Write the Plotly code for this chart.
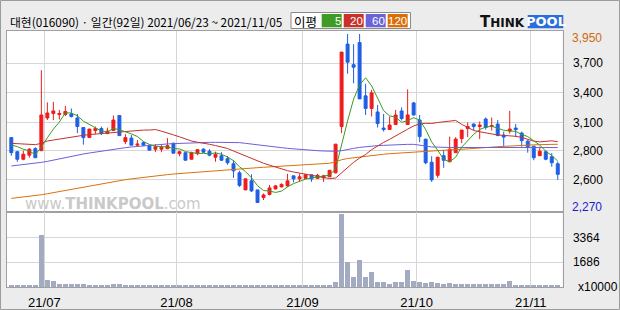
import pandas as pd
import plotly.graph_objects as go

# ---------------- data ----------------
HOLIDAYS = ['2021-08-16', '2021-09-20', '2021-09-21', '2021-09-22', '2021-10-04', '2021-10-11']
DATES = pd.bdate_range('2021-06-23', '2021-11-05', freq='C', holidays=HOLIDAYS)

OPEN = [2920, 2780, 2705, 2745, 2810, 2790, 3115, 3160, 3150, 3150,
        3155, 3115, 3020, 2920, 2990, 3010, 2960, 2990, 3140, 2880,
        2915, 2845, 2870, 2845, 2805, 2805, 2810, 2865, 2760, 2770,
        2705, 2760, 2805, 2785, 2725, 2740, 2710, 2660, 2570, 2400,
        2490, 2400, 2325, 2355, 2410, 2430, 2440, 2540, 2510, 2515,
        2550, 2515, 2520, 2530, 2570, 3030, 3850, 3645, 3865, 3335,
        3210, 3175, 3015, 3000, 3050, 3185, 3050, 3265, 3095, 2905,
        2675, 2545, 2740, 2680, 2770, 2910, 3010, 3055, 3030, 3105,
        3030, 3055, 2945, 2985, 3015, 2965, 2885, 2835, 2740, 2780,
        2730, 2660]
HIGH = [2920, 2785, 2790, 2815, 2825, 3590, 3270, 3275, 3195, 3235,
        3210, 3155, 3020, 3005, 3030, 3030, 3020, 3140, 3140, 2955,
        2945, 2895, 2885, 2845, 2855, 2845, 2915, 2865, 2790, 2770,
        2780, 2805, 2815, 2805, 2780, 2775, 2735, 2695, 2590, 2510,
        2555, 2400, 2365, 2450, 2450, 2465, 2560, 2540, 2560, 2560,
        2550, 2560, 2550, 2595, 2855, 3770, 3950, 3850, 3950, 3455,
        3395, 3245, 3155, 3130, 3195, 3220, 3400, 3275, 3145, 2905,
        2735, 2730, 2795, 2930, 2925, 2995, 3070, 3060, 3080, 3120,
        3120, 3095, 2980, 3185, 3055, 2980, 2895, 2835, 2830, 2795,
        2765, 2680]
LOW = [2740, 2680, 2695, 2720, 2720, 2790, 3095, 3095, 3100, 3135,
       3120, 2965, 2850, 2920, 2955, 2945, 2955, 2990, 2940, 2855,
       2845, 2835, 2835, 2795, 2775, 2775, 2805, 2765, 2735, 2695,
       2705, 2745, 2770, 2735, 2680, 2690, 2650, 2520, 2430, 2400,
       2380, 2270, 2300, 2345, 2405, 2425, 2430, 2475, 2480, 2510,
       2480, 2510, 2480, 2530, 2565, 2965, 3555, 3460, 3305, 3145,
       3130, 3020, 2980, 3000, 3045, 3090, 3045, 3140, 2875, 2655,
       2480, 2520, 2620, 2680, 2770, 2865, 2925, 2995, 2905, 3000,
       2990, 2935, 2835, 2960, 2925, 2830, 2770, 2695, 2740, 2695,
       2630, 2500]
CLOSE = [2770, 2705, 2755, 2805, 2720, 3145, 3165, 3185, 3160, 3180,
         3130, 3030, 2920, 3005, 3010, 2960, 2985, 3095, 2940, 2920,
         2845, 2855, 2845, 2795, 2830, 2825, 2840, 2765, 2780, 2695,
         2770, 2800, 2775, 2745, 2755, 2695, 2670, 2590, 2445, 2510,
         2390, 2275, 2350, 2420, 2440, 2455, 2490, 2510, 2530, 2550,
         2510, 2545, 2540, 2595, 2855, 3770, 3670, 3620, 3305, 3210,
         3365, 3060, 3000, 3045, 3145, 3110, 3145, 3145, 2930, 2670,
         2500, 2725, 2695, 2805, 2905, 2995, 3030, 3030, 3045, 3020,
         3040, 2940, 2925, 3005, 3000, 2890, 2830, 2720, 2785, 2705,
         2670, 2555]
VOLUME = [168, 90, 90, 90, 90, 3480, 503, 391, 190, 190,
          190, 190, 190, 90, 90, 90, 90, 190, 190, 90,
          90, 90, 90, 90, 90, 90, 90, 90, 90, 90,
          90, 90, 90, 90, 90, 90, 90, 90, 90, 90,
          90, 90, 90, 90, 90, 90, 90, 90, 90, 90,
          90, 90, 90, 90, 322, 4933, 1711, 658, 1846, 658,
          993, 369, 322, 188, 322, 322, 1175, 436, 322, 280,
          322, 255, 188, 255, 188, 188, 188, 188, 188, 188,
          188, 188, 188, 390, 168, 168, 145, 100, 100, 100,
          100, 168]
MA5 = [2847, 2830, 2804, 2787, 2751, 2826, 2918, 3004, 3075, 3167,
       3164, 3137, 3084, 3053, 3019, 2985, 2976, 3011, 2998, 2980,
       2957, 2931, 2881, 2852, 2834, 2830, 2827, 2811, 2808, 2781,
       2770, 2762, 2764, 2757, 2769, 2754, 2728, 2691, 2631, 2582,
       2521, 2442, 2394, 2389, 2375, 2388, 2431, 2463, 2485, 2507,
       2518, 2529, 2535, 2548, 2609, 2861, 3086, 3302, 3444, 3515,
       3434, 3312, 3188, 3136, 3123, 3072, 3089, 3118, 3095, 3000,
       2878, 2794, 2704, 2679, 2726, 2825, 2886, 2953, 3001, 3024,
       3033, 3015, 2994, 2986, 2982, 2952, 2930, 2889, 2845, 2786,
       2742, 2687]
MA20 = [2863, 2860, 2853, 2847, 2850, 2863, 2886, 2896, 2906, 2920,
        2929, 2936, 2943, 2950, 2955, 2962, 2968, 2974, 2978, 2979,
        2983, 2991, 2995, 2995, 3000, 2984, 2968, 2947, 2928, 2904,
        2886, 2874, 2867, 2854, 2841, 2828, 2812, 2787, 2762, 2742,
        2719, 2690, 2665, 2646, 2627, 2608, 2591, 2578, 2566, 2558,
        2545, 2533, 2521, 2513, 2518, 2572, 2622, 2674, 2717, 2752,
        2800, 2840, 2872, 2903, 2939, 2971, 3004, 3036, 3056, 3062,
        3061, 3070, 3078, 3089, 3091, 3052, 3020, 2991, 2978, 2968,
        2952, 2946, 2942, 2940, 2933, 2922, 2906, 2885, 2878, 2880,
        2888, 2880]
MA60 = [2638, 2644, 2651, 2658, 2664, 2674, 2684, 2697, 2711, 2724,
        2737, 2747, 2757, 2767, 2777, 2787, 2797, 2807, 2813, 2820,
        2827, 2833, 2840, 2843, 2850, 2853, 2857, 2860, 2863, 2867,
        2870, 2870, 2873, 2873, 2873, 2873, 2873, 2873, 2870, 2863,
        2857, 2850, 2840, 2833, 2827, 2820, 2813, 2807, 2804, 2797,
        2794, 2790, 2787, 2784, 2784, 2790, 2804, 2813, 2823, 2830,
        2837, 2840, 2843, 2847, 2850, 2853, 2853, 2853, 2847, 2837,
        2827, 2823, 2823, 2822, 2822, 2822, 2823, 2823, 2824, 2825,
        2826, 2826, 2827, 2827, 2827, 2826, 2826, 2825, 2824, 2823,
        2822, 2821]
MA120 = [2316, 2322, 2328, 2336, 2344, 2352, 2362, 2373, 2384, 2396,
         2407, 2418, 2430, 2441, 2452, 2462, 2472, 2482, 2492, 2502,
         2510, 2518, 2526, 2534, 2540, 2546, 2552, 2558, 2563, 2568,
         2573, 2577, 2580, 2585, 2590, 2595, 2600, 2605, 2609, 2613,
         2617, 2621, 2625, 2629, 2633, 2637, 2641, 2645, 2649, 2652,
         2655, 2658, 2661, 2665, 2680, 2700, 2712, 2720, 2730, 2738,
         2745, 2750, 2755, 2760, 2764, 2768, 2772, 2778, 2785, 2789,
         2792, 2794, 2796, 2798, 2800, 2803, 2806, 2810, 2815, 2820,
         2825, 2830, 2834, 2838, 2841, 2844, 2846, 2848, 2850, 2852,
         2853, 2854]

PRICE_MAX_LABEL, PRICE_MIN_LABEL = "3,950", "2,270"
PRICE_TICK_VALS = [3659, 3370, 3072, 2787, 2499]
PRICE_TICK_TEXT = ["3,700", "3,400", "3,100", "2,800", "2,600"]
VOL_TICK_VALS = [1686, 3364]
VOL_TICK_TEXT = ["1686", "3364"]
TITLE = "대현(016090) · 일간(92일) 2021/06/23 ~ 2021/11/05"
MA_NAMES = ["5", "20", "60", "120"]

# ---------------- styling ----------------
W, H = 620, 310
BG = "#ececec"
FRAME = "#a0a0a0"
GRID = "#d6d6d6"
RED = "#ee1c1c"
BLUE = "#1e5fe6"
VOLC = "#a3abc3"
MA_COLORS = ["#3c9a22", "#c4302b", "#6a60dc", "#dc700a"]
LEG_COLORS = ["#3f9a26", "#c8322a", "#6b63d9", "#dc6e0a"]
NUM_FONT = "Liberation Sans"
KR_FONT = "Noto Sans CJK KR"

def fx(px):
    return px / W

def fy(py):
    return 1 - py / H

X_LEFT, X_RIGHT = 7, 562.5
P_TOP, P_BOT = 31, 212.3
V_TOP, V_BOT = 212.3, 287.3

idx = list(range(len(CLOSE)))
month_pos, month_txt = [], []
for i in range(1, len(DATES)):
    if DATES[i].month != DATES[i - 1].month:
        month_pos.append(i - 0.5)
        month_txt.append(DATES[i].strftime("%y/%m"))

XR = [-0.72, 91.79]

fig = go.Figure()

for vals, col in zip([MA120, MA60, MA20, MA5], MA_COLORS[::-1]):
    fig.add_trace(go.Scatter(x=idx, y=vals, mode="lines", line=dict(color=col, width=1),
                             xaxis="x", yaxis="y", hoverinfo="skip"))

fig.add_trace(go.Candlestick(
    x=idx, open=OPEN, high=HIGH, low=LOW, close=CLOSE,
    increasing=dict(line=dict(color=RED, width=1), fillcolor=RED),
    decreasing=dict(line=dict(color=BLUE, width=1), fillcolor=BLUE),
    whiskerwidth=0, xaxis="x", yaxis="y"))

fig.add_trace(go.Bar(x=idx, y=VOLUME, width=0.8, marker=dict(color=VOLC, line=dict(width=0)),
                     xaxis="x2", yaxis="y2"))

axis_common = dict(showline=True, mirror=True, linecolor=FRAME, linewidth=1,
                   zeroline=False, gridcolor=GRID, gridwidth=1)

fig.update_layout(
    width=W, height=H, autosize=False,
    margin=dict(l=0, r=0, t=0, b=0),
    paper_bgcolor=BG, plot_bgcolor="white",
    showlegend=False, bargap=0,
    xaxis=dict(domain=[fx(X_LEFT), fx(X_RIGHT)], range=XR, anchor="y",
               tickmode="array", tickvals=month_pos, ticktext=month_txt,
               showticklabels=False, ticks="", rangeslider=dict(visible=False), **axis_common),
    yaxis=dict(domain=[fy(P_BOT), fy(P_TOP)], range=[2177.5, 3979.8], anchor="x", side="right",
               tickmode="array", tickvals=PRICE_TICK_VALS, ticktext=PRICE_TICK_TEXT,
               ticks="", ticklabelstandoff=7,
               tickfont=dict(family=NUM_FONT, size=12, color="black"), **axis_common),
    xaxis2=dict(domain=[fx(X_LEFT), fx(X_RIGHT)], range=XR, anchor="y2",
                tickmode="array", tickvals=month_pos, ticktext=month_txt,
                ticks="", ticklabelstandoff=3,
                tickfont=dict(family=NUM_FONT, size=13, color="black"), **axis_common),
    yaxis2=dict(domain=[fy(V_BOT), fy(V_TOP)], range=[0, 5047], anchor="x2", side="right",
                tickmode="array", tickvals=VOL_TICK_VALS, ticktext=VOL_TICK_TEXT,
                ticks="", ticklabelstandoff=7,
                tickfont=dict(family=NUM_FONT, size=12, color="black"), **axis_common),
)

# outer frame
fig.add_shape(type="rect", xref="paper", yref="paper", x0=fx(0.5), x1=fx(619.5), y0=fy(309.5), y1=fy(0.5),
              line=dict(color="#9c9c9c", width=1), fillcolor="rgba(0,0,0,0)", layer="above")

ann = []
# title
ann.append(dict(text=TITLE, x=fx(8), y=fy(21), xref="paper", yref="paper", xanchor="left", yanchor="middle",
                showarrow=False, font=dict(family=KR_FONT, size=11.8, color="black")))
# legend box
fig.add_shape(type="rect", xref="paper", yref="paper", x0=fx(291), x1=fx(410.5), y0=fy(28.5), y1=fy(12.5),
              line=dict(color="#8a8a8a", width=1), fillcolor="white")
ann.append(dict(text="이평", x=fx(305.5), y=fy(21), xref="paper", yref="paper", xanchor="center", yanchor="middle",
                showarrow=False, font=dict(family=KR_FONT, size=12.5, color="black")))
leg_x = [321.7, 343.7, 365.7, 387.7]
for name, col, lx in zip(MA_NAMES, LEG_COLORS, leg_x):
    fig.add_shape(type="rect", xref="paper", yref="paper", x0=fx(lx), x1=fx(lx + 20), y0=fy(27.3), y1=fy(14),
                  line=dict(width=0), fillcolor=col)
    ann.append(dict(text=name, x=fx(lx + 20), y=fy(21), xref="paper", yref="paper", xanchor="right",
                    yanchor="middle", showarrow=False, borderpad=0,
                    font=dict(family=NUM_FONT, size=11.5, color="white")))
# logo
ann.append(dict(text="<b>T<span style='font-size:12px'>HINK</span></b>", x=fx(527), y=fy(22), xref="paper",
                yref="paper", xanchor="right", yanchor="middle", showarrow=False,
                font=dict(family="DejaVu Sans", size=15, color="#111111")))
fig.add_shape(type="rect", xref="paper", yref="paper", x0=fx(527.7), x1=fx(563.3), y0=fy(28.3), y1=fy(15),
              line=dict(width=0), fillcolor="#2a6ddb")
ann.append(dict(text="<b>POOL</b>", x=fx(545.5), y=fy(22), xref="paper", yref="paper", xanchor="center",
                yanchor="middle", showarrow=False, font=dict(family="DejaVu Sans", size=13, color="white")))
# watermark
ann.append(dict(text="www.<b>THINKPOOL</b>.com", x=fx(23), y=fy(203.5), xref="paper", yref="paper",
                xanchor="left", yanchor="middle", showarrow=False,
                font=dict(family="DejaVu Sans", size=15, color="#c9c9c9")))
# max / min labels
ann.append(dict(text=PRICE_MAX_LABEL, x=fx(570), y=3950, xref="paper", yref="y", yshift=-4.3,
                xanchor="left", yanchor="middle", showarrow=False,
                font=dict(family=NUM_FONT, size=12, color="#cc6a10")))
ann.append(dict(text=PRICE_MIN_LABEL, x=fx(570), y=2270, xref="paper", yref="y", yshift=-3.7,
                xanchor="left", yanchor="middle", showarrow=False,
                font=dict(family=NUM_FONT, size=12, color="#1c1ccc")))
ann.append(dict(text="x10000", x=fx(576), y=fy(286.7), xref="paper", yref="paper",
                xanchor="left", yanchor="middle", showarrow=False,
                font=dict(family=NUM_FONT, size=12, color="black")))
fig.update_layout(annotations=ann)

fig.write_html("out.html")
